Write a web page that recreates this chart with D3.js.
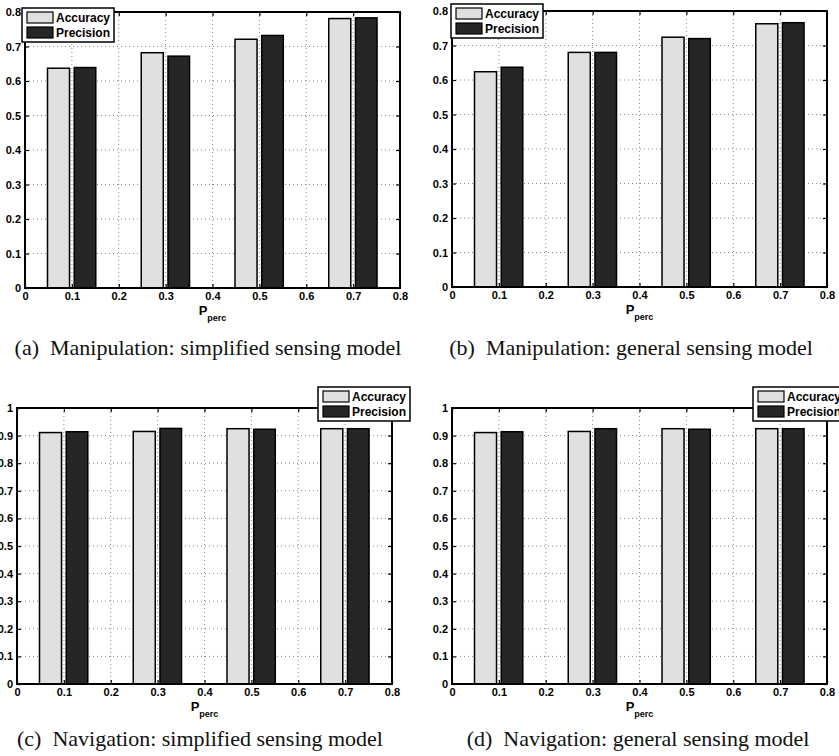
<!DOCTYPE html>
<html>
<head>
<meta charset="utf-8">
<script src="https://cdn.jsdelivr.net/npm/d3@7"></script>
<style>
  body { margin: 0; background: #fff; }
  .tick text { font-family: "Liberation Sans", Arial, sans-serif; font-weight: bold; font-size: 11px; fill: #000; }
</style>
</head>
<body>
<div id="chart"></div>
<script>
// values
var categories = [0.1, 0.3, 0.5, 0.7];
var seriesNames = ["Accuracy", "Precision"];
var manipSimpleAcc  = [0.637, 0.682, 0.721, 0.781];
var manipSimplePrec = [0.639, 0.672, 0.732, 0.783];
var manipGeneralAcc  = [0.624, 0.680, 0.724, 0.763];
var manipGeneralPrec = [0.637, 0.680, 0.720, 0.766];
var navSimpleAcc  = [0.911, 0.915, 0.925, 0.925];
var navSimplePrec = [0.914, 0.926, 0.923, 0.925];
var navGeneralAcc  = [0.911, 0.915, 0.925, 0.925];
var navGeneralPrec = [0.914, 0.925, 0.923, 0.925];
var xTicks = [0, 0.1, 0.2, 0.3, 0.4, 0.5, 0.6, 0.7, 0.8];
var yTicksManip = [0, 0.1, 0.2, 0.3, 0.4, 0.5, 0.6, 0.7, 0.8];
var yTicksNav = [0, 0.1, 0.2, 0.3, 0.4, 0.5, 0.6, 0.7, 0.8, 0.9, 1];
var captions = [
  "(a)  Manipulation: simplified sensing model",
  "(b)  Manipulation: general sensing model",
  "(c)  Navigation: simplified sensing model",
  "(d)  Navigation: general sensing model"
];

const barColors = ["#e0e0e0", "#262626"];

// panel layout (pixels) -- left, top, right, bottom of the axes box, legend corner, caption centre/baseline
var panels = [
  {acc: manipSimpleAcc, prec: manipSimplePrec, yTicks: yTicksManip, yMax: 0.8,
   l: 25, t: 12, r: 400, b: 288, lx: 22, ly: 8, cx: 208, cy: 355, cap: captions[0]},
  {acc: manipGeneralAcc, prec: manipGeneralPrec, yTicks: yTicksManip, yMax: 0.8,
   l: 452, t: 11, r: 827, b: 287, lx: 451, ly: 4, cx: 631, cy: 355, cap: captions[1]},
  {acc: navSimpleAcc, prec: navSimplePrec, yTicks: yTicksNav, yMax: 1,
   l: 17, t: 408, r: 392, b: 684, lx: 318, ly: 387, cx: 200, cy: 746, cap: captions[2]},
  {acc: navGeneralAcc, prec: navGeneralPrec, yTicks: yTicksNav, yMax: 1,
   l: 452, t: 408, r: 827, b: 684, lx: 753, ly: 387, cx: 638, cy: 746, cap: captions[3]}
];

var svg = d3.select("#chart")
  .append("svg")
  .attr("width", 839)
  .attr("height", 756);

svg.append("rect").attr("width", 839).attr("height", 756).style("fill", "#fff");

panels.forEach(function(p) {
  var x = d3.scaleLinear().domain([0, 0.8]).range([p.l, p.r]);
  var y = d3.scaleLinear().domain([0, p.yMax]).range([p.b, p.t]);
  var g = svg.append("g");

  // dotted grid
  g.selectAll("line.gx").data(xTicks.slice(1, -1)).enter().append("line")
    .attr("x1", d => x(d)).attr("x2", d => x(d))
    .attr("y1", p.t).attr("y2", p.b)
    .style("stroke", "#8a8a8a").style("stroke-width", 1).style("stroke-dasharray", "1,3");
  g.selectAll("line.gy").data(p.yTicks.slice(1, -1)).enter().append("line")
    .attr("x1", p.l).attr("x2", p.r)
    .attr("y1", d => y(d)).attr("y2", d => y(d))
    .style("stroke", "#8a8a8a").style("stroke-width", 1).style("stroke-dasharray", "1,3");

  // bars: accuracy left of the category, precision right of it
  var rows = categories.map((c, i) => ({c: c, acc: p.acc[i], prec: p.prec[i]}));
  g.selectAll("rect.acc").data(rows).enter().append("rect")
    .attr("x", d => x(d.c - 0.052))
    .attr("width", d => x(d.c - 0.005) - x(d.c - 0.052))
    .attr("y", d => y(d.acc))
    .attr("height", d => y(0) - y(d.acc))
    .style("fill", barColors[0]).style("stroke", "#000").style("stroke-width", 1.5);
  g.selectAll("rect.prec").data(rows).enter().append("rect")
    .attr("x", d => x(d.c + 0.005))
    .attr("width", d => x(d.c + 0.051) - x(d.c + 0.005))
    .attr("y", d => y(d.prec))
    .attr("height", d => y(0) - y(d.prec))
    .style("fill", barColors[1]).style("stroke", "#000").style("stroke-width", 1.5);

  // axes, ticks pointing inwards on all four sides
  var fmt = d => String(d);
  g.append("g").attr("transform", "translate(0," + p.b + ")")
    .call(d3.axisBottom(x).tickValues(xTicks).tickFormat(fmt).tickSize(-4).tickPadding(4));
  g.append("g").attr("transform", "translate(" + p.l + ",0)")
    .call(d3.axisLeft(y).tickValues(p.yTicks).tickFormat(fmt).tickSize(-4).tickPadding(4));
  g.append("g").attr("transform", "translate(0," + p.t + ")")
    .call(d3.axisTop(x).tickValues(xTicks).tickFormat("").tickSize(-4));
  g.append("g").attr("transform", "translate(" + p.r + ",0)")
    .call(d3.axisRight(y).tickValues(p.yTicks).tickFormat("").tickSize(-4));
  g.selectAll(".domain").remove();
  g.selectAll(".tick line").style("stroke", "#000").style("stroke-width", 1.2);

  // box
  g.append("rect")
    .attr("x", p.l).attr("y", p.t)
    .attr("width", p.r - p.l).attr("height", p.b - p.t)
    .style("fill", "none").style("stroke", "#000").style("stroke-width", 2);

  // x label P_perc
  var xl = g.append("text")
    .attr("x", (p.l + p.r) / 2).attr("y", p.b + 27)
    .attr("text-anchor", "middle")
    .style("font-family", "Liberation Sans, Arial, sans-serif")
    .style("font-weight", "bold").style("font-size", "13px");
  xl.append("tspan").text("P");
  xl.append("tspan").attr("dy", 6).style("font-size", "9px").text("perc");

  // legend
  var lg = g.append("g").attr("transform", "translate(" + p.lx + "," + p.ly + ")");
  lg.append("rect").attr("width", 92).attr("height", 34)
    .style("fill", "#fff").style("stroke", "#000").style("stroke-width", 1.5);
  seriesNames.forEach(function(s, i) {
    lg.append("rect").attr("x", 5).attr("y", 4 + i * 15).attr("width", 26).attr("height", 11)
      .style("fill", barColors[i]).style("stroke", "#000").style("stroke-width", 1.2);
    lg.append("text").attr("x", 34).attr("y", 14 + i * 15)
      .style("font-family", "Liberation Sans, Arial, sans-serif")
      .style("font-weight", "bold").style("font-size", "12px")
      .text(s);
  });

  // caption
  g.append("text")
    .attr("x", p.cx).attr("y", p.cy)
    .attr("text-anchor", "middle")
    .style("font-family", "Liberation Serif, Times New Roman, serif")
    .style("font-size", "22px").style("fill", "#111")
    .style("white-space", "pre")
    .text(p.cap);
});
</script>
</body>
</html>
